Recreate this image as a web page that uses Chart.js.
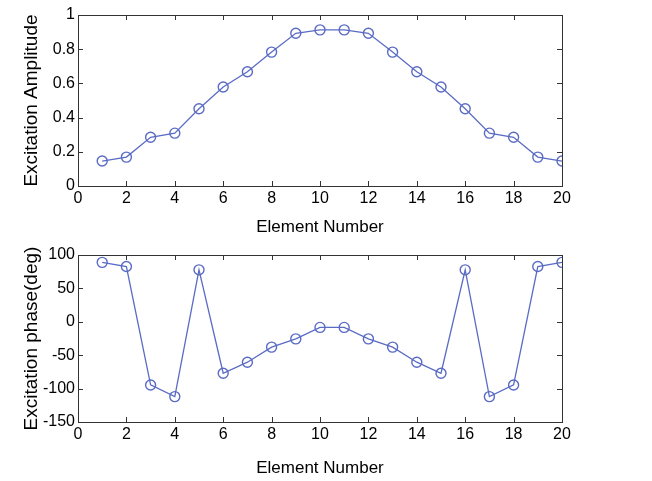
<!DOCTYPE html>
<html>
<head>
<meta charset="utf-8">
<script src="https://cdn.jsdelivr.net/npm/chart.js@4/dist/chart.umd.min.js"></script>
<style>
  body { margin: 0; background: #fff; }
  .box { position: absolute; left: 0; width: 652px; }
</style>
</head>
<body>
<div class="box" style="top:0;height:240px"><canvas id="ampChart"></canvas></div>
<div class="box" style="top:240px;height:241px"><canvas id="phaseChart"></canvas></div>
<script>
const elements = [1, 2, 3, 4, 5, 6, 7, 8, 9, 10, 11, 12, 13, 14, 15, 16, 17, 18, 19, 20];
const amplitude = [0.146, 0.169, 0.285, 0.309, 0.452, 0.579, 0.668, 0.783, 0.893, 0.913,
                   0.913, 0.893, 0.783, 0.668, 0.579, 0.452, 0.309, 0.285, 0.169, 0.146];
const phase = [89, 82.7, -94.5, -112, 77.8, -77, -60.5, -37.9, -25.6, -8.4,
               -8.4, -25.6, -37.9, -60.5, -77, 77.8, -112, -94.5, 82.7, 89];

const lineColor = "#5a6bc4";
const family = "'Liberation Sans', Arial, sans-serif";
const tickFont = { family: family, size: 16 };

// matlab style frame with inward ticks
const frame = {
  id: "frame",
  afterDraw(chart) {
    const ctx = chart.ctx;
    const a = chart.chartArea;
    const len = 5;
    ctx.save();
    ctx.strokeStyle = "#333";
    ctx.lineWidth = 1;
    ctx.strokeRect(a.left + 0.5, a.top + 0.5, a.right - a.left, a.bottom - a.top);
    ctx.beginPath();
    chart.scales.x.ticks.forEach((t) => {
      const px = Math.round(chart.scales.x.getPixelForValue(t.value)) + 0.5;
      ctx.moveTo(px, a.bottom); ctx.lineTo(px, a.bottom - len);
      ctx.moveTo(px, a.top); ctx.lineTo(px, a.top + len);
    });
    chart.scales.y.ticks.forEach((t) => {
      const py = Math.round(chart.scales.y.getPixelForValue(t.value)) + 0.5;
      ctx.moveTo(a.left, py); ctx.lineTo(a.left + len, py);
      ctx.moveTo(a.right, py); ctx.lineTo(a.right - len, py);
    });
    ctx.stroke();
    ctx.restore();
  },
};

function makeChart(id, values, yTitle, yMin, yMax, yStep, xHeight) {
  const points = elements.map((x, i) => ({ x: x, y: values[i] }));
  return new Chart(document.getElementById(id), {
    type: "line",
    data: {
      datasets: [
        {
          data: points,
          borderColor: lineColor,
          borderWidth: 1.3,
          backgroundColor: "rgba(0,0,0,0)",
          pointRadius: 5,
          pointBorderWidth: 1.4,
          pointBorderColor: lineColor,
          pointBackgroundColor: "rgba(0,0,0,0)",
          tension: 0,
        },
      ],
    },
    options: {
      responsive: true,
      maintainAspectRatio: false,
      animation: false,
      layout: { padding: { left: 0, right: 90, top: 15, bottom: 0 } },
      plugins: { legend: { display: false }, tooltip: { enabled: false } },
      scales: {
        x: {
          type: "linear",
          min: 0,
          max: 20,
          ticks: { stepSize: 2, color: "#000", font: tickFont, padding: 3 },
          grid: { display: false, drawTicks: false },
          border: { display: false },
          title: { display: true, text: "Element Number", color: "#000", font: { family: family, size: 17 }, padding: { top: 0, bottom: 2 } },
          afterFit: (s) => { s.height = xHeight; },
        },
        y: {
          min: yMin,
          max: yMax,
          ticks: {
            stepSize: yStep,
            color: "#000",
            font: tickFont,
            padding: 3,
            callback: (v) => String(Math.round(v * 10) / 10),
          },
          grid: { display: false, drawTicks: false },
          border: { display: false },
          title: { display: true, text: yTitle, color: "#000", font: { family: family, size: 19 }, padding: { top: 20, bottom: 0 } },
          afterFit: (s) => { s.width = 78; },
        },
      },
    },
    plugins: [frame],
  });
}

makeChart("ampChart", amplitude, "Excitation Amplitude", 0, 1, 0.2, 54);
makeChart("phaseChart", phase, "Excitation phase(deg)", -150, 100, 50, 59);
</script>
</body>
</html>
